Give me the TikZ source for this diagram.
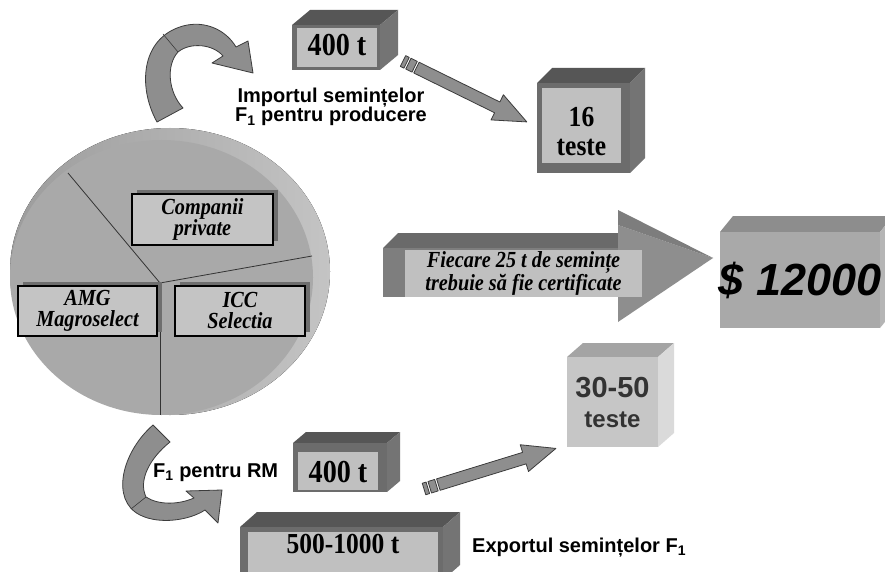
\documentclass[tikz,border=0pt]{standalone}
\usepackage{fontspec}
\setmainfont{Liberation Serif}
\setsansfont{Liberation Sans}
\newfontfamily\condserif[FakeStretch=0.88]{Liberation Serif}
\usetikzlibrary{shadows}
\definecolor{darkfront}{HTML}{6C6C6C}
\definecolor{darktop}{HTML}{565656}
\definecolor{darkside}{HTML}{747474}
\definecolor{midfront}{HTML}{A9A9A9}
\definecolor{midtop}{HTML}{8D8D8D}
\definecolor{midside}{HTML}{B5B5B5}
\definecolor{lightfront}{HTML}{C6C6C6}
\definecolor{lighttop}{HTML}{A4A4A4}
\definecolor{lightside}{HTML}{DADADA}
\definecolor{panelgray}{HTML}{C0C0C0}
\definecolor{arrowgray}{HTML}{8E8E8E}
\definecolor{arrowedge}{HTML}{3C3C3C}
\definecolor{piface}{HTML}{A9A9A9}
\definecolor{pierimL}{HTML}{9C9C9C}
\definecolor{pierimR}{HTML}{C4C4C4}
\definecolor{labelgray}{HTML}{C4C4C4}
\definecolor{shadowgray}{HTML}{6E6E6E}
\definecolor{bigtop}{HTML}{6A6A6A}
\definecolor{bigfront}{HTML}{7E7E7E}
\definecolor{headup}{HTML}{7D7D7D}
\definecolor{headlow}{HTML}{8E8E8E}
\definecolor{softtext}{HTML}{333333}
\tikzset{
  cubetop/.style={fill=#1top},
  cubeside/.style={fill=#1side},
  cubefront/.style={fill=#1front},
  panelfill/.style={fill=panelgray},
  numtxt/.style={inner sep=0pt, anchor=base, text=black},
  sanstxt/.style={inner sep=0pt, text=black, font=\sffamily\bfseries\fontsize{20}{20}\selectfont},
  pielabel/.style={draw=black, line width=1.3pt, fill=labelgray, inner sep=0pt, align=center,
    font=\condserif\bfseries\itshape\fontsize{23}{21}\selectfont,
    general shadow={fill=shadowgray, shadow xshift=5pt, shadow yshift=4pt}},
  ribbon/.style={fill=arrowgray, draw=arrowedge, line width=0.8pt, line join=round},
  pieline/.style={draw=black!80, line width=0.8pt}
}
\newcommand{\cubebox}[7]{%
  \fill[cubetop=#7] (#1,#2) -- (#1+#5,#2-#6) -- (#3+#5,#2-#6) -- (#3,#2) -- cycle;
  \fill[cubeside=#7] (#3,#2) -- (#3+#5,#2-#6) -- (#3+#5,#4-#6) -- (#3,#4) -- cycle;
  \fill[cubefront=#7] (#1,#2) rectangle (#3,#4);
}
\newcommand{\stripearrow}[2]{%
  \begin{scope}[shift={(#1)},rotate=#2]
    \filldraw[ribbon] (0,-6) -- (4,-6) -- (4,6) -- (0,6) -- cycle;
    \filldraw[ribbon] (6,-6) -- (13,-6) -- (13,6) -- (6,6) -- cycle;
    \filldraw[ribbon] (15,-6) -- (105,-6) -- (105,-14) -- (138,0) -- (105,14) -- (105,6) -- (15,6) -- cycle;
  \end{scope}
}
\begin{document}
\begin{tikzpicture}[x=1pt,y=-1pt]
\clip (0,0) rectangle (885,572);
\useasboundingbox (0,0) rectangle (885,572);
\fill[white] (0,0) rectangle (885,572);

% pie
\fill[left color=pierimL, right color=pierimR] (170,271.5) ellipse [x radius=160, y radius=143.5];
\fill[piface] (161.5,277.5) ellipse [x radius=151.5, y radius=137.5];
\coordinate (pc) at (160,283);
\coordinate (pa) at (68,173);
\coordinate (pb) at (312,256);
\coordinate (pd) at (160,415);
\draw[pieline] (pc) -- (pa);
\draw[pieline] (pc) -- (pb);
\draw[pieline] (pc) -- (pd);
\node[pielabel, minimum width=141pt, minimum height=51pt] (comp) at (202.5,219.5) {Companii\\private};
\node[pielabel, minimum width=139pt, minimum height=50pt] (amg) at (87.5,311) {AMG\\Magroselect};
\node[pielabel, minimum width=130pt, minimum height=50pt] (icc) at (240,311) {ICC\\Selectia};

% top curved arrow
\filldraw[ribbon] (157,122) .. controls (138,88) and (140,38) .. (183,26)
  .. controls (205,20) and (226,30) .. (236,47) -- (248,41) -- (253,73) -- (212,63) -- (223,56)
  .. controls (213,44) and (190,42) .. (178,52)
  .. controls (166,65) and (168,92) .. (183,108) -- cycle;
\draw[arrowedge, line width=0.6pt] (163,34) -- (178,52);

% bottom curved arrow
\filldraw[ribbon] (153,425) .. controls (122,452) and (110,500) .. (140,515)
  .. controls (160,525) and (190,520) .. (205,510) -- (218,523) -- (222,490) -- (186,491) -- (194,498)
  .. controls (178,505) and (158,505) .. (146,497)
  .. controls (138,480) and (150,458) .. (170,442) -- cycle;
\draw[arrowedge, line width=0.6pt] (146,497) -- (131,509);

% top 400 t box
\cubebox{292}{25}{380}{70}{18}{15}{dark}
\fill[panelfill] (297,28) rectangle (377,67);
\node[numtxt, font=\condserif\bfseries\fontsize{32}{32}\selectfont] (ta) at (337,56) {400 t};

% 16 teste box
\cubebox{537}{83}{630}{173}{15}{15}{dark}
\fill[panelfill] (542,88) rectangle (621,163);
\node[numtxt, font=\condserif\bfseries\fontsize{29}{29}\selectfont] (tb1) at (581.5,127) {16};
\node[numtxt, font=\condserif\bfseries\fontsize{29}{29}\selectfont] (tb2) at (581.5,156) {teste};

% arrow 400 t -> 16 teste
\coordinate (s1) at (403,61);
\stripearrow{s1}{-26.2}

% texts
\node[sanstxt, anchor=base] (imp1) at (331,103) {Importul semințelor};
\node[sanstxt, anchor=base] (imp2) at (331,122) {F\textsubscript{1} pentru producere};

% big 3D arrow
\fill[bigtop] (383,248) -- (398,233) -- (618,233) -- (618,248) -- cycle;
\fill[bigfront] (383,248) rectangle (618,297);
\fill[headlow] (618,225) -- (713,258) -- (618,322) -- cycle;
\fill[headup] (618,210) -- (713,258) -- (618,225) -- cycle;
\node[fill=panelgray, inner sep=0pt, minimum width=237pt, minimum height=47pt, align=center,
  font=\condserif\bfseries\itshape\fontsize{23}{21}\selectfont] (cert) at (523.5,273.5)
  {Fiecare 25 t de semințe\\trebuie să fie certificate};

% $ 12000 box
\cubebox{720}{232}{880}{328}{13}{16}{mid}
\node[numtxt, font=\sffamily\bfseries\itshape\fontsize{45}{45}\selectfont] (price) at (800,295) {\$ 12000};

% 30-50 teste box
\cubebox{567}{357}{658}{447}{16}{14}{light}
\node[numtxt, text=softtext, font=\sffamily\bfseries\fontsize{29}{29}\selectfont] (tc1) at (612.5,397) {30-50};
\node[numtxt, text=softtext, font=\sffamily\bfseries\fontsize{24}{24}\selectfont] (tc2) at (612.5,427) {teste};

% lower 400 t box
\cubebox{293}{443}{387}{492}{13}{11}{dark}
\fill[panelfill] (298,452) rectangle (378,490);
\node[numtxt, font=\condserif\bfseries\fontsize{32}{32}\selectfont] (td) at (338,482) {400 t};

% arrow to 30-50
\coordinate (s2) at (424,489);
\stripearrow{s2}{17.1}

% 500-1000 box
\cubebox{240}{527}{443}{580}{17}{15}{dark}
\fill[panelfill] (248,532) rectangle (438,580);
\node[numtxt, font=\condserif\bfseries\fontsize{29}{29}\selectfont] (te) at (343,553) {500-1000 t};

\node[sanstxt, anchor=base west] (rm) at (153,477) {F\textsubscript{1} pentru RM};
\node[sanstxt, anchor=base west] (exp) at (472,552) {Exportul semințelor F\textsubscript{1}};
\end{tikzpicture}
\end{document}
